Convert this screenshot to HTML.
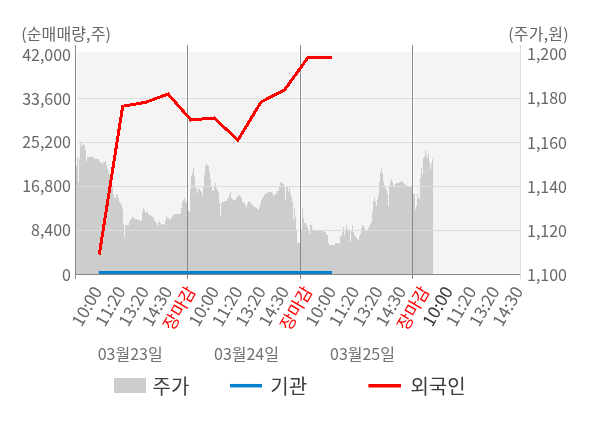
<!DOCTYPE html>
<html><head><meta charset="utf-8"><style>
html,body{margin:0;padding:0;background:#fff;}
svg{display:block;font-family:"Noto Sans CJK KR","Liberation Sans",sans-serif;}
</style></head><body>
<svg width="600" height="428" viewBox="0 0 600 428">
<rect x="0" y="0" width="600" height="428" fill="#ffffff"/>
<g fill="#f4f4f4">
<rect x="77" y="52" width="109" height="222"/>
<rect x="189" y="52" width="110" height="222"/>
<rect x="302" y="52" width="109" height="222"/>
<rect x="414" y="52" width="106" height="222"/>
</g>
<path d="M76 274L76 166H77L77 157H78L78 182H79L79 159H80L80 143H81L81 147H82L82 144H83L83 145H85L85 150H86L86 161H87L87 157H94L94 159H99L99 161H100L100 162H101L101 163H102L102 164H103L103 162H105L105 161H106L106 165H107L107 169H108L108 172H109L109 175H110L110 180H111L111 186H112L112 187H113L113 195H114L114 198H116L116 194H117L117 195H118L118 198H119L119 202H120L120 203H121L121 205H122L122 209H123L123 224H124L124 237H125L125 225H129L129 221H130L130 220H131L131 219H132L132 217H134L134 219H137L137 220H140L140 221H142L142 212H143L143 208H144L144 210H145L145 213H146L146 212H148L148 214H149L149 215H151L151 216H152L152 217H154L154 221H155L155 222H156L156 223H157L157 226H158L158 223H159L159 221H160L160 223H161L161 225H162L162 224H164L164 225H165L165 221H166L166 216H167L167 218H169L169 220H170L170 219H171L171 218H172L172 216H173L173 215H174L174 214H181L181 208H182L182 202H183L183 200H184L184 198H185L185 201H186L186 203H187L187 209H188L188 211H189L189 212H190L190 189H191L191 176H192L192 173H193L193 168H194L194 177H195L195 187H196L196 189H197L197 193H198L198 188H199L199 189H200L200 191H201L201 192H202L202 196H203L203 187H204L204 175H205L205 166H206L206 164H207L207 165H208L208 166H209L209 172H210L210 179H211L211 186H212L212 190H213L213 191H214L214 186H215L215 183H216L216 188H217L217 190H218L218 192H219L219 203H220L220 216H221L221 203H222L222 202H224L224 201H227L227 199H228L228 198H229L229 195H230L230 192H231L231 198H232L232 199H233L233 200H236L236 198H237L237 197H238L238 194H239L239 196H241L241 198H242L242 202H244L244 203H245L245 205H246L246 207H247L247 204H248L248 202H249L249 201H250L250 203H251L251 204H252L252 205H253L253 206H254L254 207H256L256 208H257L257 209H258L258 210H259L259 207H260L260 204H261L261 200H262L262 198H263L263 197H264L264 195H265L265 194H266L266 193H268L268 192H272L272 193H273L273 196H274L274 195H275L275 194H276L276 193H277L277 191H279L279 186H280L280 182H281L281 183H283L283 184H284L284 186H285L285 200H286L286 187H288L288 192H289L289 188H290L290 194H291L291 197H292L292 202H293L293 220H294L294 208H295L295 217H296L296 230H297L297 243H300L300 236H301L301 229H302L302 208H303L303 218H304L304 223H306L306 225H307L307 227H308L308 231H309L309 234H310L310 225H312L312 229H313L313 231H324L324 232H326L326 235H328L328 243H329L329 245H335L335 243H339L339 244H340L340 236H342L342 232H343L343 227H344L344 235H345L345 231H346L346 225H347L347 229H349L349 231H350L350 242H351L351 231H352L352 225H353L353 232H354L354 235H355L355 236H356L356 238H357L357 239H358L358 240H359L359 236H360L360 234H361L361 228H362L362 225H363L363 226H364L364 228H365L365 231H368L368 228H369L369 226H370L370 224H371L371 222H372L372 212H373L373 201H374L374 197H375L375 202H376L376 206H377L377 200H378L378 195H379L379 182H380L380 173H381L381 168H382L382 173H383L383 181H384L384 185H385L385 188H386L386 190H387L387 194H388L388 206H389L389 186H390L390 182H391L391 179H392L392 182H393L393 186H394L394 185H395L395 184H396L396 183H399L399 182H401L401 181H402L402 182H403L403 183H404L404 184H405L405 185H407L407 186H413L413 194H415L415 209H416L416 206H417L417 194H418L418 198H419L419 199H420L420 178H421L421 168H422L422 174H423L423 158H424L424 157H425L425 150H426L426 155H427L427 158H428L428 153H429L429 162H430L430 169H431L431 164H432L432 159H433V274Z" fill="#cdcdcd" shape-rendering="crispEdges"/>
<g stroke="#dddddd" stroke-width="1" shape-rendering="crispEdges">
<line x1="77" y1="98.5" x2="520" y2="98.5"/>
<line x1="77" y1="142.5" x2="520" y2="142.5"/>
<line x1="77" y1="186.5" x2="520" y2="186.5"/>
<line x1="77" y1="230.5" x2="520" y2="230.5"/>
</g>
<g stroke="#888888" stroke-width="1" shape-rendering="crispEdges">
<line x1="75.5" y1="45" x2="75.5" y2="279"/>
<line x1="187.5" y1="45" x2="187.5" y2="279"/>
<line x1="300.5" y1="45" x2="300.5" y2="279"/>
<line x1="412.5" y1="45" x2="412.5" y2="279"/>
<line x1="75" y1="274.5" x2="520" y2="274.5"/>
</g>
<line x1="520.5" y1="45" x2="520.5" y2="279" stroke="#dddddd" stroke-width="1"/>
<line x1="98.8" y1="272.5" x2="332" y2="272.5" stroke="#0480cc" stroke-width="3"/>
<polyline points="99.3,254.5 122.7,106.3 146,102.2 168,94 191,120 214,118 238,140 261,102 284.5,90 308,57.5 331.5,57.5" fill="none" stroke="#ff0000" stroke-width="3" stroke-linejoin="miter" shape-rendering="crispEdges"/>
<g font-size="16" fill="#666666">
<text x="21.2" y="40.3" letter-spacing="0.12">(순매매량,주)</text>
<text x="508.2" y="40.3" letter-spacing="0.2">(주가,원)</text>
</g>
<g font-size="16" fill="#666666" text-anchor="end">
<text x="71" y="60.5">42,000</text>
<text x="71" y="104.5">33,600</text>
<text x="71" y="148.3">25,200</text>
<text x="71" y="192.3">16,800</text>
<text x="71" y="235.7">8,400</text>
<text x="71" y="280.5">0</text>
</g>
<g font-size="16" fill="#666666">
<text x="527" y="60">1,200</text>
<text x="527" y="104.2">1,180</text>
<text x="527" y="148.5">1,160</text>
<text x="527" y="192.7">1,140</text>
<text x="527" y="236.5">1,120</text>
<text x="527" y="281.2">1,100</text>
</g>
<g font-size="17">
<text x="102.8" y="291" transform="rotate(-60 102.8 291)" text-anchor="end" fill="#666666">10:00</text>
<text x="126.2" y="291" transform="rotate(-60 126.2 291)" text-anchor="end" fill="#666666">11:20</text>
<text x="149.6" y="291" transform="rotate(-60 149.6 291)" text-anchor="end" fill="#666666">13:20</text>
<text x="172.9" y="291" transform="rotate(-60 172.9 291)" text-anchor="end" fill="#666666">14:30</text>
<text x="196.3" y="291" transform="rotate(-60 196.3 291)" text-anchor="end" fill="#ff0000">장마감</text>
<text x="219.7" y="291" transform="rotate(-60 219.7 291)" text-anchor="end" fill="#666666">10:00</text>
<text x="243.1" y="291" transform="rotate(-60 243.1 291)" text-anchor="end" fill="#666666">11:20</text>
<text x="266.5" y="291" transform="rotate(-60 266.5 291)" text-anchor="end" fill="#666666">13:20</text>
<text x="289.8" y="291" transform="rotate(-60 289.8 291)" text-anchor="end" fill="#666666">14:30</text>
<text x="313.2" y="291" transform="rotate(-60 313.2 291)" text-anchor="end" fill="#ff0000">장마감</text>
<text x="336.6" y="291" transform="rotate(-60 336.6 291)" text-anchor="end" fill="#666666">10:00</text>
<text x="360.0" y="291" transform="rotate(-60 360.0 291)" text-anchor="end" fill="#666666">11:20</text>
<text x="383.4" y="291" transform="rotate(-60 383.4 291)" text-anchor="end" fill="#666666">13:20</text>
<text x="406.7" y="291" transform="rotate(-60 406.7 291)" text-anchor="end" fill="#666666">14:30</text>
<text x="430.1" y="291" transform="rotate(-60 430.1 291)" text-anchor="end" fill="#ff0000">장마감</text>
<text x="453.5" y="291" transform="rotate(-60 453.5 291)" text-anchor="end" fill="#333333">10:00</text>
<text x="476.9" y="291" transform="rotate(-60 476.9 291)" text-anchor="end" fill="#666666">11:20</text>
<text x="500.3" y="291" transform="rotate(-60 500.3 291)" text-anchor="end" fill="#666666">13:20</text>
<text x="523.6" y="291" transform="rotate(-60 523.6 291)" text-anchor="end" fill="#666666">14:30</text>
</g>
<g font-size="16" fill="#707070">
<text x="97.7" y="359.5">03월23일</text>
<text x="214" y="359.5">03월24일</text>
<text x="330" y="359.5">03월25일</text>
</g>
<rect x="114" y="378" width="32" height="15" fill="#cdcdcd"/>
<text x="152.6" y="394" font-size="20" fill="#3c3c3c">주가</text>
<line x1="230" y1="385.7" x2="262" y2="385.7" stroke="#0480cc" stroke-width="3.5"/>
<text x="270.3" y="394" font-size="20" fill="#3c3c3c">기관</text>
<line x1="368.4" y1="385.7" x2="401" y2="385.7" stroke="#ff0000" stroke-width="3.5"/>
<text x="410.4" y="394" font-size="20" fill="#3c3c3c">외국인</text>
</svg>
</body></html>
